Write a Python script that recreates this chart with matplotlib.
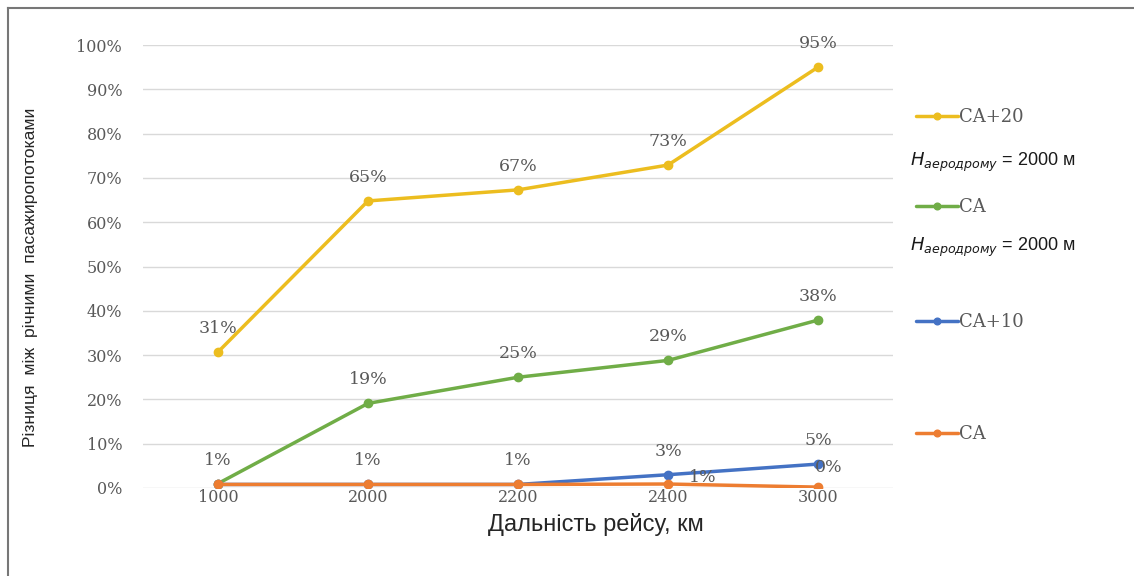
import matplotlib.pyplot as plt
from matplotlib.lines import Line2D

# chart data
distances = ["1000", "2000", "2200", "2400", "3000"]
ca20 = [30.7, 64.8, 67.3, 72.9, 95.0]
ca_green = [1.0, 19.1, 25.0, 28.8, 37.9]
ca10 = [0.8, 0.8, 0.8, 3.0, 5.4]
ca_orange = [0.8, 0.8, 0.8, 0.9, 0.2]

yticks = list(range(0, 101, 10))

W, H = 1134, 576
fig = plt.figure(figsize=(W / 100, H / 100), dpi=100)
ax = fig.add_axes([143 / W, 1 - 488 / H, 750 / W, 443 / H])

label_color = "#595959"
serif = ["DejaVu Serif"]
sans = ["Liberation Sans", "DejaVu Sans"]

x = list(range(len(distances)))
series = [
    ("CA+20", ca20, "#ecbd1f"),
    ("CA", ca_green, "#70ad47"),
    ("CA+10", ca10, "#4472c4"),
    ("CA", ca_orange, "#ed7d31"),
]
lines = []
for name, vals, color in series:
    (ln,) = ax.plot(x, vals, color=color, lw=2.5, marker="o", ms=6, label=name,
                    solid_capstyle="round")
    lines.append(ln)


def put_labels(vals, idx, offsets=None):
    for i in idx:
        dx, dy = (0, 17) if offsets is None else offsets[i]
        ax.annotate(f"{vals[i]:.0f}%", (x[i], vals[i]), xytext=(dx, dy),
                    textcoords="offset points", ha="center", va="center",
                    fontsize=12.5, color=label_color, family=serif)


put_labels(ca20, range(5))
put_labels(ca_green, range(1, 5))
put_labels(ca10, range(5))
put_labels(ca_orange, [3, 4], {3: (25, 5), 4: (8, 14)})

ax.set_xlim(-0.5, 4.5)
ax.set_ylim(0, 100)
ax.set_yticks(yticks)
ax.set_yticklabels([f"{t}%" for t in yticks])
ax.set_xticks(x)
ax.set_xticklabels(distances)
for lab in ax.get_xticklabels() + ax.get_yticklabels():
    lab.set_family(serif)
    lab.set_fontsize(11.5)
    lab.set_color(label_color)
ax.tick_params(length=0)
ax.tick_params(axis="x", pad=1)
ax.tick_params(axis="y", pad=15)
ax.grid(axis="y", color="#d9d9d9", lw=1)
ax.set_axisbelow(True)
for s in ax.spines.values():
    s.set_visible(False)

fig.text(31 / W, 1 - 277 / H, "Різниця  між  річними  пасажиропотоками",
         rotation=90, ha="center", va="center", fontsize=12.6, family=sans,
         color="#262626")
fig.text(596 / W, 1 - 524 / H, "Дальність рейсу, км", ha="center", va="center",
         fontsize=17, family=sans, color="#262626")

# legend entries placed one by one
leg_y = [117, 207, 322, 434]
for ln, yy in zip(lines, leg_y):
    fig.legend([ln], [ln.get_label()], loc="center left",
               bbox_to_anchor=(907 / W, 1 - yy / H), frameon=False,
               handlelength=2.3, handletextpad=0.1, borderpad=0,
               prop={"family": serif, "size": 13}, labelcolor=label_color,
               markerscale=0.8)

for yy in [162, 247]:
    fig.text(910 / W, 1 - yy / H, r"$H_{\mathit{аеродрому}}$ = 2000 м",
             ha="left", va="center", fontsize=13, family=sans, color="#1a1a1a")

# frame around the picture
fig.add_artist(Line2D([8 / W, 8 / W], [0, 1 - 8 / H], color="#777777", lw=1.5))
fig.add_artist(Line2D([8 / W, 1], [1 - 8 / H, 1 - 8 / H], color="#777777", lw=1.5))

fig.savefig("out.png", dpi=100)
